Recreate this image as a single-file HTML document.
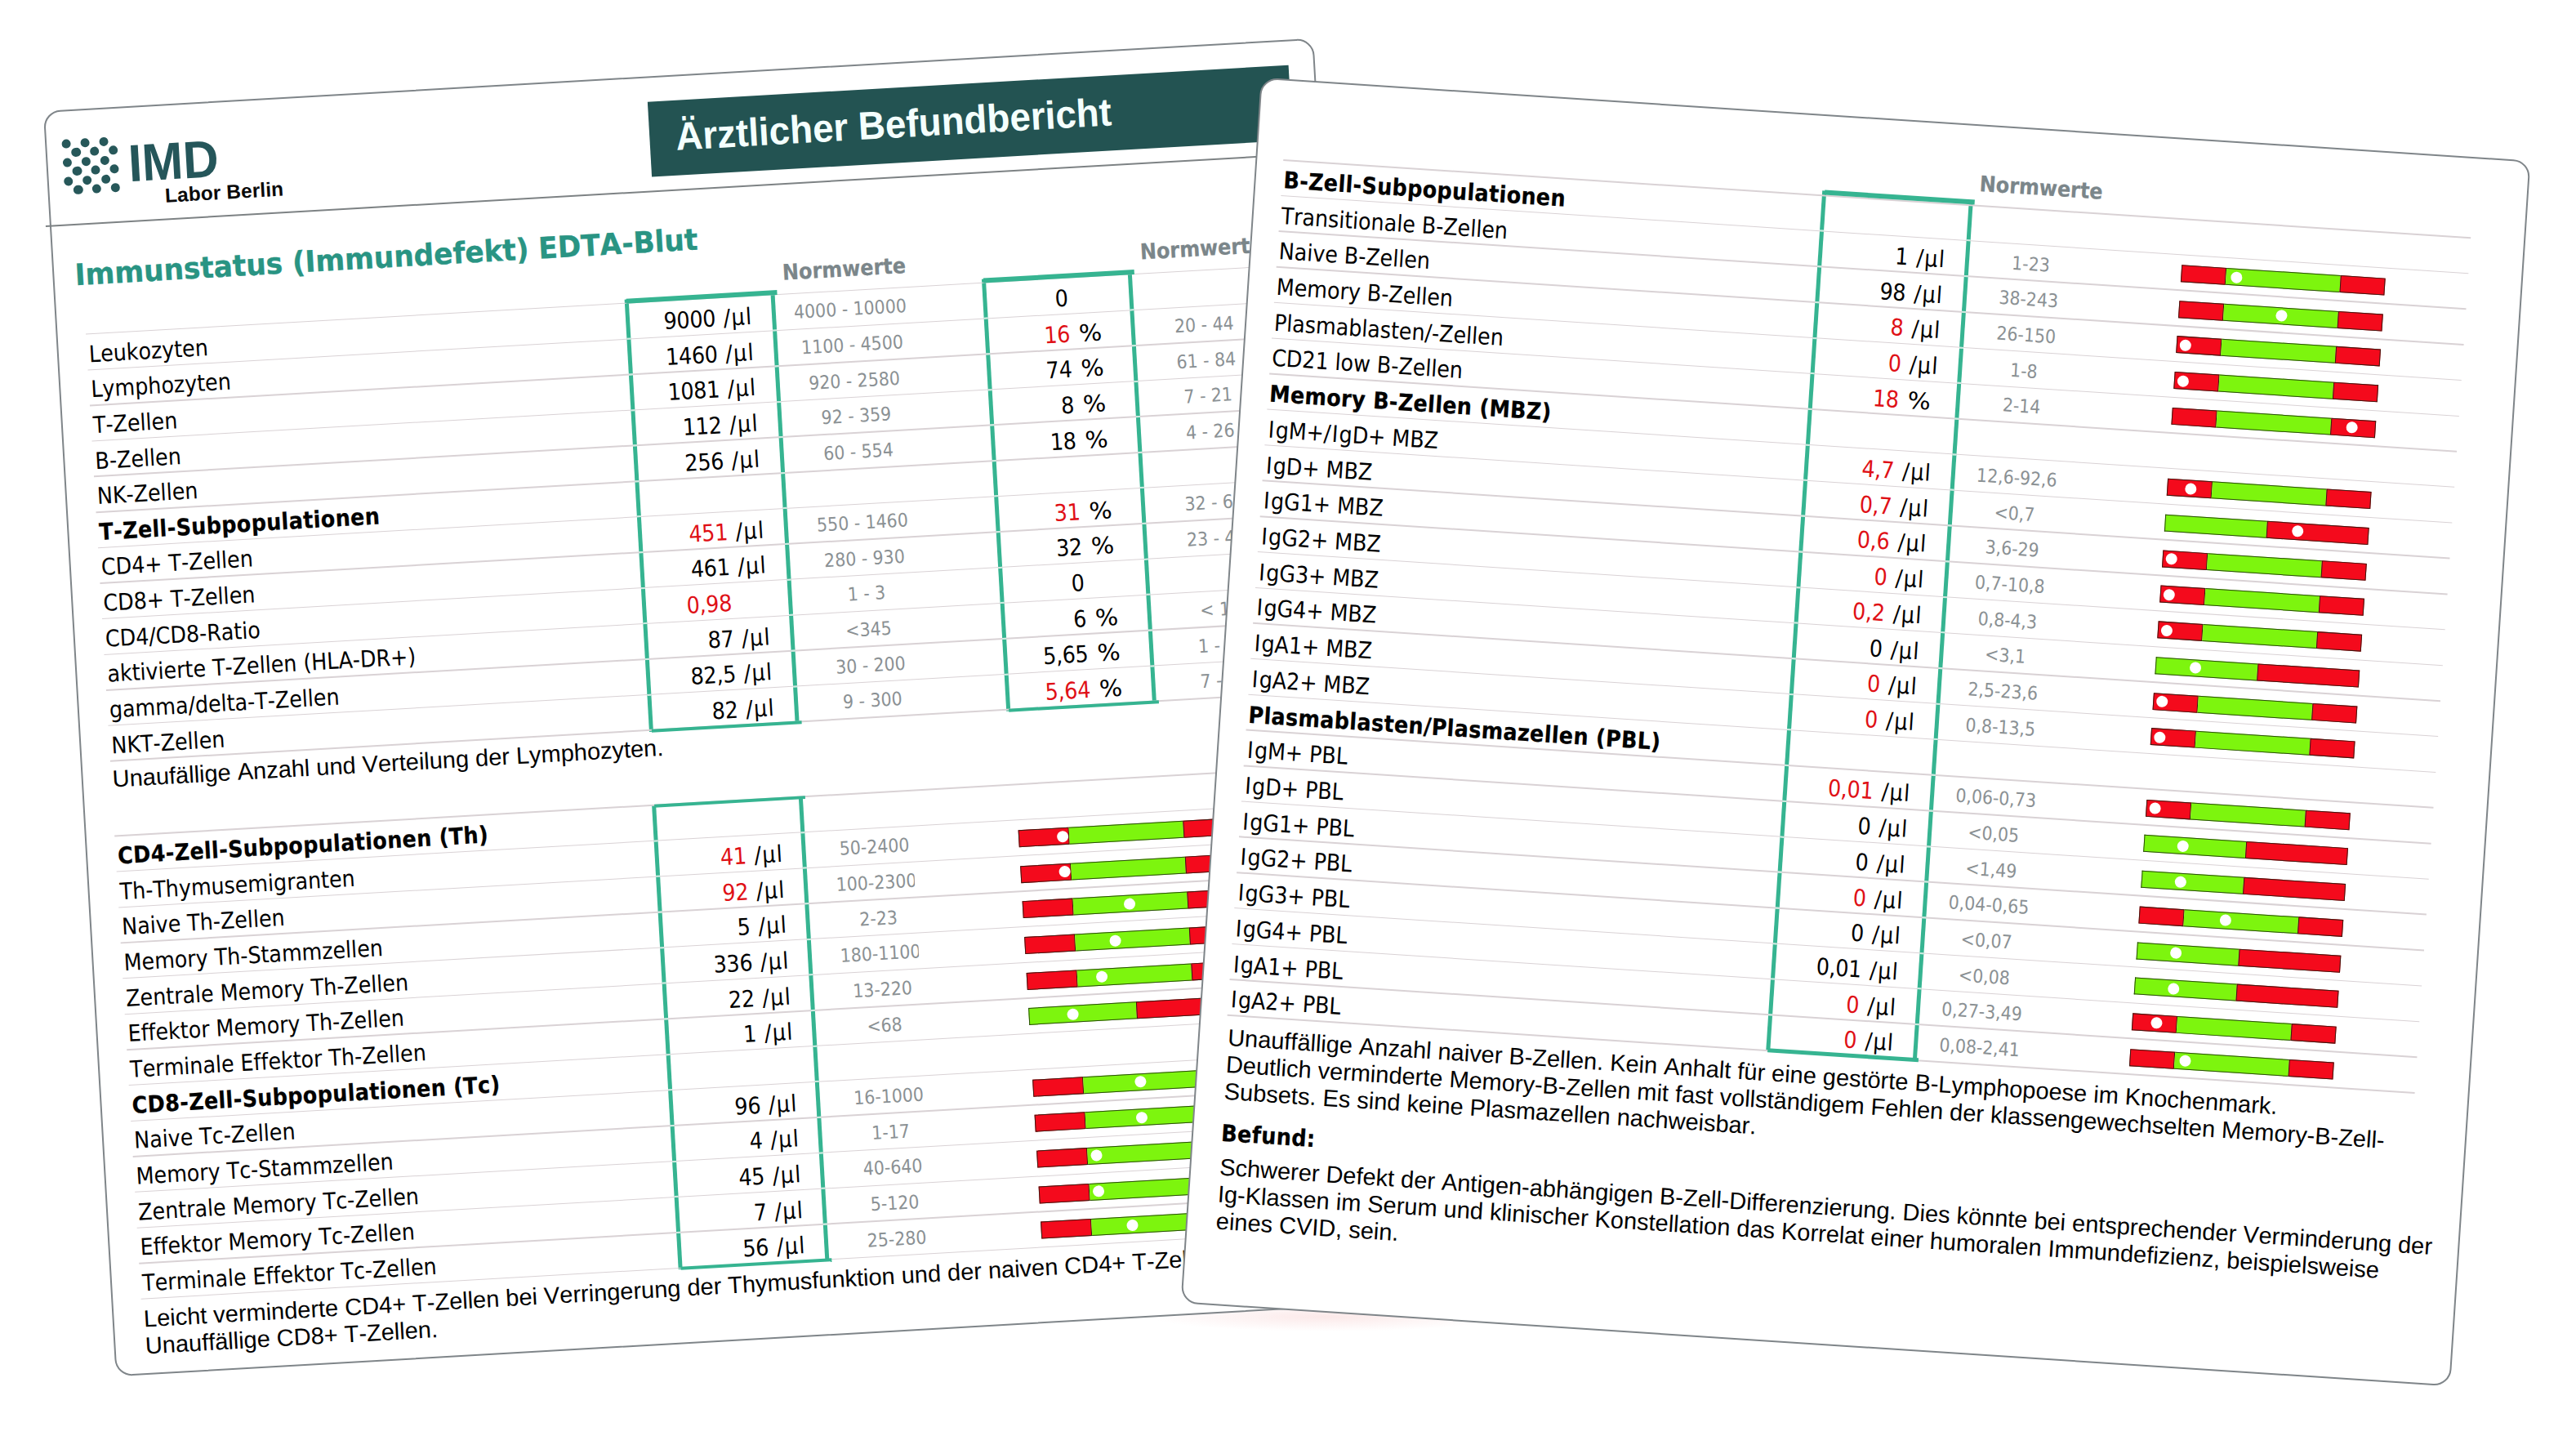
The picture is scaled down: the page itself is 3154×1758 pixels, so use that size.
<!DOCTYPE html>
<html lang="de"><head><meta charset="utf-8"><title>Ärztlicher Befundbericht</title>
<style>
*{box-sizing:border-box;margin:0;padding:0}
html,body{width:3154px;height:1758px;background:#fff;overflow:hidden}
body{position:relative;font-family:"DejaVu Sans Condensed","DejaVu Sans",sans-serif;color:#000;font-kerning:none;font-variant-ligatures:none}
.card{position:absolute;background:#fff;border:2.3px solid #7f8589;border-radius:21px;transform-origin:50% 50%}
.clip{position:absolute;left:0;top:0;right:0;bottom:0;border-radius:19px;overflow:hidden}
.off{position:absolute;left:0;top:0;width:100%;height:100%}
.t{position:absolute;white-space:nowrap;line-height:1}
.lb{font-size:28.2px}
.bd{font-size:28.2px;font-weight:700;letter-spacing:.42px;-webkit-text-stroke:.25px #000}
.nm{font-size:28.2px;letter-spacing:-.3px}
.un{font-size:28.2px;letter-spacing:1.3px}
.r{color:#df1016}
.sI{padding:0 1.4px}
.nv{font-size:22.8px;color:#8b9194;transform:translateX(-50%)}
.nh{font-size:26.6px;font-weight:700;color:#7b868a;-webkit-text-stroke:.2px #7b868a}
.ar{font-family:"Liberation Sans",sans-serif;font-size:29px;line-height:33px}
.ln{position:absolute;height:1.5px;background:#d9d2d5}
.tq{position:absolute;background:#36b491}
.gap{position:absolute;background:#c9ece0;height:2px}
.bar{position:absolute;height:21px}
.bar i{position:absolute;top:0;bottom:0;display:block;border:1px solid #3a1a10}
.rd{background:#f40a1c}
.gn{background:#7df50e;border-left:0!important;border-right:0!important;border-color:#2c4a10!important}
.dot{position:absolute;width:14px;height:14px;border-radius:50%;background:#fff;top:3.5px}
</style></head>
<body>
<div style="position:absolute;left:1410px;top:1594px;width:430px;height:36px;background:radial-gradient(ellipse closest-side at 50% 50%,rgba(244,190,190,.34),rgba(244,190,190,0) 100%)"></div>
<div class="card" id="cardL" style="left:95.65px;top:90.20px;width:1557.6px;height:1552.4px;transform:rotate(-3.28deg)">
<div class="clip"><div class="off" style="transform:translate(-2.6px,-1.7px)">
<div style="position:absolute;left:739.6px;top:31.4px;width:786.9px;height:92px;background:#235352"></div>
<div class="t" style="left:772.4px;top:52.3px;font-family:'Liberation Sans',sans-serif;font-weight:700;font-size:48px;color:#f4fffd;transform-origin:0 50%;transform:scaleX(.954)">Ärztlicher Befundbericht</div>
<div style="position:absolute;left:20.9px;top:35.7px;width:11.2px;height:11.2px;border-radius:50%;background:#27585a"></div>
<div style="position:absolute;left:43.8px;top:35.7px;width:11.2px;height:11.2px;border-radius:50%;background:#27585a"></div>
<div style="position:absolute;left:66.6px;top:35.7px;width:11.2px;height:11.2px;border-radius:50%;background:#27585a"></div>
<div style="position:absolute;left:32.4px;top:47.1px;width:11.2px;height:11.2px;border-radius:50%;background:#27585a"></div>
<div style="position:absolute;left:55.2px;top:47.1px;width:11.2px;height:11.2px;border-radius:50%;background:#27585a"></div>
<div style="position:absolute;left:78.1px;top:47.1px;width:11.2px;height:11.2px;border-radius:50%;background:#27585a"></div>
<div style="position:absolute;left:20.9px;top:58.6px;width:11.2px;height:11.2px;border-radius:50%;background:#27585a"></div>
<div style="position:absolute;left:43.8px;top:58.6px;width:11.2px;height:11.2px;border-radius:50%;background:#27585a"></div>
<div style="position:absolute;left:66.6px;top:58.6px;width:11.2px;height:11.2px;border-radius:50%;background:#27585a"></div>
<div style="position:absolute;left:32.4px;top:70.0px;width:11.2px;height:11.2px;border-radius:50%;background:#27585a"></div>
<div style="position:absolute;left:55.2px;top:70.0px;width:11.2px;height:11.2px;border-radius:50%;background:#27585a"></div>
<div style="position:absolute;left:78.1px;top:70.0px;width:11.2px;height:11.2px;border-radius:50%;background:#27585a"></div>
<div style="position:absolute;left:20.9px;top:81.5px;width:11.2px;height:11.2px;border-radius:50%;background:#27585a"></div>
<div style="position:absolute;left:43.8px;top:81.5px;width:11.2px;height:11.2px;border-radius:50%;background:#27585a"></div>
<div style="position:absolute;left:66.6px;top:81.5px;width:11.2px;height:11.2px;border-radius:50%;background:#27585a"></div>
<div style="position:absolute;left:32.4px;top:93.0px;width:11.2px;height:11.2px;border-radius:50%;background:#27585a"></div>
<div style="position:absolute;left:55.2px;top:93.0px;width:11.2px;height:11.2px;border-radius:50%;background:#27585a"></div>
<div style="position:absolute;left:78.1px;top:93.0px;width:11.2px;height:11.2px;border-radius:50%;background:#27585a"></div>
<div class="t" style="left:100.6px;top:38.4px;font-family:'Liberation Sans',sans-serif;font-weight:700;font-size:64.2px;color:#25565a;transform-origin:0 50%;transform:scaleX(.94)">IMD</div>
<div class="t " style="left:143.5px;top:100.4px;font-family:'Liberation Sans',sans-serif;font-weight:700;font-size:24.4px;color:#0a0a0a;letter-spacing:.15px">Labor Berlin</div>
<div class="t " style="left:28.0px;top:185.0px;font-family:'DejaVu Sans',sans-serif;font-weight:700;font-size:36.2px;color:#299483;transform-origin:0 50%;transform:scaleX(.949);-webkit-text-stroke:.35px #299483">Immunstatus (Immundefekt) EDTA-Blut</div>
<div class="t nh" style="left:893.0px;top:235.5px;">Normwerte</div>
<div class="t nh" style="left:1331.6px;top:235.7px;">Normwerte</div>
<div class="tq" style="left:697.7px;top:271.0px;width:5.0px;height:530.3px"></div>
<div class="tq" style="left:877.1px;top:271.0px;width:5.0px;height:530.3px"></div>
<div class="tq" style="left:1135.7px;top:271.0px;width:5.0px;height:530.2px"></div>
<div class="tq" style="left:1315.3px;top:271.0px;width:5.0px;height:530.2px"></div>
<div class="ln" style="left:36.6px;width:1493.4px;top:274.9px"></div>
<div class="ln" style="left:36.6px;width:1493.4px;top:318.5px"></div>
<div class="ln" style="left:36.6px;width:1493.4px;top:362.1px"></div>
<div class="ln" style="left:36.6px;width:1493.4px;top:405.7px"></div>
<div class="ln" style="left:36.6px;width:1493.4px;top:449.4px"></div>
<div class="ln" style="left:36.6px;width:1493.4px;top:493.0px"></div>
<div class="ln" style="left:36.6px;width:1493.4px;top:536.6px"></div>
<div class="ln" style="left:36.6px;width:1493.4px;top:580.3px"></div>
<div class="ln" style="left:36.6px;width:1493.4px;top:623.9px"></div>
<div class="ln" style="left:36.6px;width:1493.4px;top:667.5px"></div>
<div class="ln" style="left:36.6px;width:1493.4px;top:711.2px"></div>
<div class="ln" style="left:36.6px;width:1493.4px;top:754.8px"></div>
<div class="ln" style="left:36.6px;width:1493.4px;top:798.4px"></div>
<div class="tq" style="left:700.3px;top:270.0px;width:184.4px;height:5.9px"></div>
<div class="tq" style="left:700.5px;top:798.4px;width:184.4px;height:3.9px"></div>
<div class="gap" style="left:697.7px;width:5.0px;top:318.2px"></div>
<div class="gap" style="left:877.1px;width:5.0px;top:318.2px"></div>
<div class="gap" style="left:697.7px;width:5.0px;top:361.9px"></div>
<div class="gap" style="left:877.1px;width:5.0px;top:361.9px"></div>
<div class="gap" style="left:697.7px;width:5.0px;top:405.5px"></div>
<div class="gap" style="left:877.1px;width:5.0px;top:405.5px"></div>
<div class="gap" style="left:697.7px;width:5.0px;top:449.1px"></div>
<div class="gap" style="left:877.1px;width:5.0px;top:449.1px"></div>
<div class="gap" style="left:697.7px;width:5.0px;top:492.8px"></div>
<div class="gap" style="left:877.1px;width:5.0px;top:492.8px"></div>
<div class="gap" style="left:697.7px;width:5.0px;top:536.4px"></div>
<div class="gap" style="left:877.1px;width:5.0px;top:536.4px"></div>
<div class="gap" style="left:697.7px;width:5.0px;top:580.0px"></div>
<div class="gap" style="left:877.1px;width:5.0px;top:580.0px"></div>
<div class="gap" style="left:697.7px;width:5.0px;top:623.6px"></div>
<div class="gap" style="left:877.1px;width:5.0px;top:623.6px"></div>
<div class="gap" style="left:697.7px;width:5.0px;top:667.3px"></div>
<div class="gap" style="left:877.1px;width:5.0px;top:667.3px"></div>
<div class="gap" style="left:697.7px;width:5.0px;top:710.9px"></div>
<div class="gap" style="left:877.1px;width:5.0px;top:710.9px"></div>
<div class="gap" style="left:697.7px;width:5.0px;top:754.5px"></div>
<div class="gap" style="left:877.1px;width:5.0px;top:754.5px"></div>
<div class="tq" style="left:1138.3px;top:270.0px;width:184.6px;height:5.9px"></div>
<div class="tq" style="left:1138.5px;top:798.3px;width:184.6px;height:3.9px"></div>
<div class="gap" style="left:1135.7px;width:5.0px;top:318.2px"></div>
<div class="gap" style="left:1315.3px;width:5.0px;top:318.2px"></div>
<div class="gap" style="left:1135.7px;width:5.0px;top:361.9px"></div>
<div class="gap" style="left:1315.3px;width:5.0px;top:361.9px"></div>
<div class="gap" style="left:1135.7px;width:5.0px;top:405.5px"></div>
<div class="gap" style="left:1315.3px;width:5.0px;top:405.5px"></div>
<div class="gap" style="left:1135.7px;width:5.0px;top:449.1px"></div>
<div class="gap" style="left:1315.3px;width:5.0px;top:449.1px"></div>
<div class="gap" style="left:1135.7px;width:5.0px;top:492.8px"></div>
<div class="gap" style="left:1315.3px;width:5.0px;top:492.8px"></div>
<div class="gap" style="left:1135.7px;width:5.0px;top:536.4px"></div>
<div class="gap" style="left:1315.3px;width:5.0px;top:536.4px"></div>
<div class="gap" style="left:1135.7px;width:5.0px;top:580.0px"></div>
<div class="gap" style="left:1315.3px;width:5.0px;top:580.0px"></div>
<div class="gap" style="left:1135.7px;width:5.0px;top:623.6px"></div>
<div class="gap" style="left:1315.3px;width:5.0px;top:623.6px"></div>
<div class="gap" style="left:1135.7px;width:5.0px;top:667.3px"></div>
<div class="gap" style="left:1315.3px;width:5.0px;top:667.3px"></div>
<div class="gap" style="left:1135.7px;width:5.0px;top:710.9px"></div>
<div class="gap" style="left:1315.3px;width:5.0px;top:710.9px"></div>
<div class="gap" style="left:1135.7px;width:5.0px;top:754.5px"></div>
<div class="gap" style="left:1315.3px;width:5.0px;top:754.5px"></div>
<div class="t lb" style="left:39.6px;top:286.6px;">Leukozyten</div>
<div class="t nm" style="right:745.8px;top:286.9px">9000</div>
<div class="t un" style="left:817.6px;top:286.9px">/µl</div>
<div class="t nv" style="left:973.2px;top:287.3px;">4000 - 10000</div>
<div class="t nm" style="right:313.6px;top:286.9px">0</div>
<div class="t lb" style="left:39.6px;top:330.3px;">Lymphozyten</div>
<div class="t nm" style="right:745.8px;top:330.6px">1460</div>
<div class="t un" style="left:817.6px;top:330.6px">/µl</div>
<div class="t nv" style="left:973.2px;top:330.9px;">1100 - 4500</div>
<div class="t nm r" style="right:313.6px;top:330.6px">16</div>
<div class="t un" style="left:1250.6px;top:330.6px;letter-spacing:0;transform-origin:0 50%;transform:scaleX(1.17)">%</div>
<div class="t nv" style="left:1404.7px;top:330.9px;">20 - 44</div>
<div class="t lb" style="left:39.6px;top:373.9px;">T-Zellen</div>
<div class="t nm" style="right:745.8px;top:374.2px">1081</div>
<div class="t un" style="left:817.6px;top:374.2px">/µl</div>
<div class="t nv" style="left:973.2px;top:374.6px;">920 - 2580</div>
<div class="t nm" style="right:313.6px;top:374.2px">74</div>
<div class="t un" style="left:1250.6px;top:374.2px;letter-spacing:0;transform-origin:0 50%;transform:scaleX(1.17)">%</div>
<div class="t nv" style="left:1404.7px;top:374.6px;">61 - 84</div>
<div class="t lb" style="left:39.6px;top:417.5px;">B-Zellen</div>
<div class="t nm" style="right:745.8px;top:417.8px">112</div>
<div class="t un" style="left:817.6px;top:417.8px">/µl</div>
<div class="t nv" style="left:973.2px;top:418.2px;">92 - 359</div>
<div class="t nm" style="right:313.6px;top:417.8px">8</div>
<div class="t un" style="left:1250.6px;top:417.8px;letter-spacing:0;transform-origin:0 50%;transform:scaleX(1.17)">%</div>
<div class="t nv" style="left:1404.7px;top:418.2px;">7 - 21</div>
<div class="t lb" style="left:39.6px;top:461.2px;">NK-Zellen</div>
<div class="t nm" style="right:745.8px;top:461.5px">256</div>
<div class="t un" style="left:817.6px;top:461.5px">/µl</div>
<div class="t nv" style="left:973.2px;top:461.8px;">60 - 554</div>
<div class="t nm" style="right:313.6px;top:461.5px">18</div>
<div class="t un" style="left:1250.6px;top:461.5px;letter-spacing:0;transform-origin:0 50%;transform:scaleX(1.17)">%</div>
<div class="t nv" style="left:1404.7px;top:461.8px;">4 - 26</div>
<div class="t bd" style="left:39.6px;top:504.8px;">T-Zell-Subpopulationen</div>
<div class="t lb" style="left:39.6px;top:548.4px;">CD4+ T-Zellen</div>
<div class="t nm r" style="right:745.8px;top:548.7px">451</div>
<div class="t un" style="left:817.6px;top:548.7px">/µl</div>
<div class="t nv" style="left:973.2px;top:549.1px;">550 - 1460</div>
<div class="t nm r" style="right:313.6px;top:548.7px">31</div>
<div class="t un" style="left:1250.6px;top:548.7px;letter-spacing:0;transform-origin:0 50%;transform:scaleX(1.17)">%</div>
<div class="t nv" style="left:1404.7px;top:549.1px;">32 - 60</div>
<div class="t lb" style="left:39.6px;top:592.1px;">CD8+ T-Zellen</div>
<div class="t nm" style="right:745.8px;top:592.4px">461</div>
<div class="t un" style="left:817.6px;top:592.4px">/µl</div>
<div class="t nv" style="left:973.2px;top:592.7px;">280 - 930</div>
<div class="t nm" style="right:313.6px;top:592.4px">32</div>
<div class="t un" style="left:1250.6px;top:592.4px;letter-spacing:0;transform-origin:0 50%;transform:scaleX(1.17)">%</div>
<div class="t nv" style="left:1404.7px;top:592.7px;">23 - 40</div>
<div class="t lb" style="left:39.6px;top:635.7px;">CD4/CD8-Ratio</div>
<div class="t nm r" style="right:745.8px;top:636.0px">0,98</div>
<div class="t nv" style="left:973.2px;top:636.4px;">1 - 3</div>
<div class="t nm" style="right:313.6px;top:636.0px">0</div>
<div class="t lb" style="left:39.6px;top:679.3px;">aktivierte T-Zellen (HLA-DR+)</div>
<div class="t nm" style="right:745.8px;top:679.6px">87</div>
<div class="t un" style="left:817.6px;top:679.6px">/µl</div>
<div class="t nv" style="left:973.2px;top:680.0px;">&lt;345</div>
<div class="t nm" style="right:313.6px;top:679.6px">6</div>
<div class="t un" style="left:1250.6px;top:679.6px;letter-spacing:0;transform-origin:0 50%;transform:scaleX(1.17)">%</div>
<div class="t nv" style="left:1404.7px;top:680.0px;">&lt; 15</div>
<div class="t lb" style="left:39.6px;top:722.9px;">gamma/delta-T-Zellen</div>
<div class="t nm" style="right:745.8px;top:723.2px">82,5</div>
<div class="t un" style="left:817.6px;top:723.2px">/µl</div>
<div class="t nv" style="left:973.2px;top:723.6px;">30 - 200</div>
<div class="t nm" style="right:313.6px;top:723.2px">5,65</div>
<div class="t un" style="left:1250.6px;top:723.2px;letter-spacing:0;transform-origin:0 50%;transform:scaleX(1.17)">%</div>
<div class="t nv" style="left:1404.7px;top:723.6px;">1 - 10</div>
<div class="t lb" style="left:39.6px;top:766.6px;">NKT-Zellen</div>
<div class="t nm" style="right:745.8px;top:766.9px">82</div>
<div class="t un" style="left:817.6px;top:766.9px">/µl</div>
<div class="t nv" style="left:973.2px;top:767.2px;">9 - 300</div>
<div class="t nm r" style="right:313.6px;top:766.9px">5,64</div>
<div class="t un" style="left:1250.6px;top:766.9px;letter-spacing:0;transform-origin:0 50%;transform:scaleX(1.17)">%</div>
<div class="t nv" style="left:1404.7px;top:767.2px;">7 - 31</div>
<div class="t ar" style="left:38.6px;top:804.7px;">Unaufällige Anzahl und Verteilung der Lymphozyten.</div>
<div class="tq" style="left:696.4px;top:891.2px;width:5.0px;height:568.4px"></div>
<div class="tq" style="left:876.0px;top:891.2px;width:5.0px;height:568.4px"></div>
<div class="ln" style="left:36.6px;width:1493.4px;top:890.2px"></div>
<div class="ln" style="left:36.6px;width:1493.4px;top:933.9px"></div>
<div class="ln" style="left:36.6px;width:1493.4px;top:977.6px"></div>
<div class="ln" style="left:36.6px;width:1493.4px;top:1021.2px"></div>
<div class="ln" style="left:36.6px;width:1493.4px;top:1064.9px"></div>
<div class="ln" style="left:36.6px;width:1493.4px;top:1108.5px"></div>
<div class="ln" style="left:36.6px;width:1493.4px;top:1152.2px"></div>
<div class="ln" style="left:36.6px;width:1493.4px;top:1195.9px"></div>
<div class="ln" style="left:36.6px;width:1493.4px;top:1239.5px"></div>
<div class="ln" style="left:36.6px;width:1493.4px;top:1283.2px"></div>
<div class="ln" style="left:36.6px;width:1493.4px;top:1326.8px"></div>
<div class="ln" style="left:36.6px;width:1493.4px;top:1370.5px"></div>
<div class="ln" style="left:36.6px;width:1493.4px;top:1414.2px"></div>
<div class="ln" style="left:36.6px;width:1493.4px;top:1457.8px"></div>
<div class="tq" style="left:699.0px;top:890.2px;width:184.6px;height:3.8px"></div>
<div class="tq" style="left:699.2px;top:1456.7px;width:184.6px;height:3.9px"></div>
<div class="gap" style="left:696.4px;width:5.0px;top:933.7px"></div>
<div class="gap" style="left:876.0px;width:5.0px;top:933.7px"></div>
<div class="gap" style="left:696.4px;width:5.0px;top:977.3px"></div>
<div class="gap" style="left:876.0px;width:5.0px;top:977.3px"></div>
<div class="gap" style="left:696.4px;width:5.0px;top:1021.0px"></div>
<div class="gap" style="left:876.0px;width:5.0px;top:1021.0px"></div>
<div class="gap" style="left:696.4px;width:5.0px;top:1064.6px"></div>
<div class="gap" style="left:876.0px;width:5.0px;top:1064.6px"></div>
<div class="gap" style="left:696.4px;width:5.0px;top:1108.3px"></div>
<div class="gap" style="left:876.0px;width:5.0px;top:1108.3px"></div>
<div class="gap" style="left:696.4px;width:5.0px;top:1152.0px"></div>
<div class="gap" style="left:876.0px;width:5.0px;top:1152.0px"></div>
<div class="gap" style="left:696.4px;width:5.0px;top:1195.6px"></div>
<div class="gap" style="left:876.0px;width:5.0px;top:1195.6px"></div>
<div class="gap" style="left:696.4px;width:5.0px;top:1239.3px"></div>
<div class="gap" style="left:876.0px;width:5.0px;top:1239.3px"></div>
<div class="gap" style="left:696.4px;width:5.0px;top:1282.9px"></div>
<div class="gap" style="left:876.0px;width:5.0px;top:1282.9px"></div>
<div class="gap" style="left:696.4px;width:5.0px;top:1326.6px"></div>
<div class="gap" style="left:876.0px;width:5.0px;top:1326.6px"></div>
<div class="gap" style="left:696.4px;width:5.0px;top:1370.3px"></div>
<div class="gap" style="left:876.0px;width:5.0px;top:1370.3px"></div>
<div class="gap" style="left:696.4px;width:5.0px;top:1413.9px"></div>
<div class="gap" style="left:876.0px;width:5.0px;top:1413.9px"></div>
<div class="t bd" style="left:39.6px;top:902.0px;">CD4-Zell-Subpopulationen (Th)</div>
<div class="t lb" style="left:39.6px;top:945.7px;">Th-Thymusemigranten</div>
<div class="t nm r" style="right:745.8px;top:946.0px">41</div>
<div class="t un" style="left:817.6px;top:946.0px">/µl</div>
<div class="t nv" style="left:965.1px;top:946.4px;">50-2400</div>
<div class="bar" style="left:1141.6px;top:947.0px;width:265.0px"><i class="rd" style="left:0.0px;width:62.3px"></i><i class="gn" style="left:62.3px;width:140.4px"></i><i class="rd" style="left:202.7px;width:62.3px"></i><b class="dot" style="left:47.7px"></b></div>
<div class="t lb" style="left:39.6px;top:989.4px;">Naive Th-Zellen</div>
<div class="t nm r" style="right:745.8px;top:989.7px">92</div>
<div class="t un" style="left:817.6px;top:989.7px">/µl</div>
<div style="position:absolute;left:910px;top:978.3px;width:101.7px;height:42px;overflow:hidden"><div class="t nv" style="left:55.1px;top:11.7px">100-2300</div></div>
<div class="bar" style="left:1141.6px;top:990.6px;width:265.0px"><i class="rd" style="left:0.0px;width:62.3px"></i><i class="gn" style="left:62.3px;width:140.4px"></i><i class="rd" style="left:202.7px;width:62.3px"></i><b class="dot" style="left:47.1px"></b></div>
<div class="t lb" style="left:39.6px;top:1033.0px;">Memory Th-Stammzellen</div>
<div class="t nm" style="right:745.8px;top:1033.3px">5</div>
<div class="t un" style="left:817.6px;top:1033.3px">/µl</div>
<div class="t nv" style="left:965.1px;top:1033.7px;">2-23</div>
<div class="bar" style="left:1141.6px;top:1034.3px;width:265.0px"><i class="rd" style="left:0.0px;width:62.3px"></i><i class="gn" style="left:62.3px;width:140.4px"></i><i class="rd" style="left:202.7px;width:62.3px"></i><b class="dot" style="left:124.2px"></b></div>
<div class="t lb" style="left:39.6px;top:1076.7px;">Zentrale Memory Th-Zellen</div>
<div class="t nm" style="right:745.8px;top:1077.0px">336</div>
<div class="t un" style="left:817.6px;top:1077.0px">/µl</div>
<div style="position:absolute;left:910px;top:1065.6px;width:101.7px;height:42px;overflow:hidden"><div class="t nv" style="left:55.1px;top:11.7px">180-1100</div></div>
<div class="bar" style="left:1141.6px;top:1078.0px;width:265.0px"><i class="rd" style="left:0.0px;width:62.3px"></i><i class="gn" style="left:62.3px;width:140.4px"></i><i class="rd" style="left:202.7px;width:62.3px"></i><b class="dot" style="left:104.8px"></b></div>
<div class="t lb" style="left:39.6px;top:1120.3px;">Effektor Memory Th-Zellen</div>
<div class="t nm" style="right:745.8px;top:1120.6px">22</div>
<div class="t un" style="left:817.6px;top:1120.6px">/µl</div>
<div class="t nv" style="left:965.1px;top:1121.0px;">13-220</div>
<div class="bar" style="left:1141.6px;top:1121.6px;width:265.0px"><i class="rd" style="left:0.0px;width:62.3px"></i><i class="gn" style="left:62.3px;width:140.4px"></i><i class="rd" style="left:202.7px;width:62.3px"></i><b class="dot" style="left:85.8px"></b></div>
<div class="t lb" style="left:39.6px;top:1164.0px;">Terminale Effektor Th-Zellen</div>
<div class="t nm" style="right:745.8px;top:1164.3px">1</div>
<div class="t un" style="left:817.6px;top:1164.3px">/µl</div>
<div class="t nv" style="left:965.1px;top:1164.7px;">&lt;68</div>
<div class="bar" style="left:1141.6px;top:1165.3px;width:265.0px"><i class="gn" style="left:0.0px;width:132.0px;border-left:1px solid #2c4a10!important"></i><i class="rd" style="left:132.0px;width:133.0px"></i><b class="dot" style="left:47.3px"></b></div>
<div class="t bd" style="left:39.6px;top:1207.7px;">CD8-Zell-Subpopulationen (Tc)</div>
<div class="t lb" style="left:39.6px;top:1251.3px;">Naive Tc-Zellen</div>
<div class="t nm" style="right:745.8px;top:1251.6px">96</div>
<div class="t un" style="left:817.6px;top:1251.6px">/µl</div>
<div class="t nv" style="left:965.1px;top:1252.0px;">16-1000</div>
<div class="bar" style="left:1141.6px;top:1252.6px;width:265.0px"><i class="rd" style="left:0.0px;width:62.3px"></i><i class="gn" style="left:62.3px;width:140.4px"></i><i class="rd" style="left:202.7px;width:62.3px"></i><b class="dot" style="left:125.0px"></b></div>
<div class="t lb" style="left:39.6px;top:1295.0px;">Memory Tc-Stammzellen</div>
<div class="t nm" style="right:745.8px;top:1295.3px">4</div>
<div class="t un" style="left:817.6px;top:1295.3px">/µl</div>
<div class="t nv" style="left:965.1px;top:1295.7px;">1-17</div>
<div class="bar" style="left:1141.6px;top:1296.3px;width:265.0px"><i class="rd" style="left:0.0px;width:62.3px"></i><i class="gn" style="left:62.3px;width:140.4px"></i><i class="rd" style="left:202.7px;width:62.3px"></i><b class="dot" style="left:124.6px"></b></div>
<div class="t lb" style="left:39.6px;top:1338.6px;">Zentrale Memory Tc-Zellen</div>
<div class="t nm" style="right:745.8px;top:1338.9px">45</div>
<div class="t un" style="left:817.6px;top:1338.9px">/µl</div>
<div class="t nv" style="left:965.1px;top:1339.3px;">40-640</div>
<div class="bar" style="left:1141.6px;top:1339.9px;width:265.0px"><i class="rd" style="left:0.0px;width:62.3px"></i><i class="gn" style="left:62.3px;width:140.4px"></i><i class="rd" style="left:202.7px;width:62.3px"></i><b class="dot" style="left:66.4px"></b></div>
<div class="t lb" style="left:39.6px;top:1382.3px;">Effektor Memory Tc-Zellen</div>
<div class="t nm" style="right:745.8px;top:1382.6px">7</div>
<div class="t un" style="left:817.6px;top:1382.6px">/µl</div>
<div class="t nv" style="left:965.1px;top:1383.0px;">5-120</div>
<div class="bar" style="left:1141.6px;top:1383.6px;width:265.0px"><i class="rd" style="left:0.0px;width:62.3px"></i><i class="gn" style="left:62.3px;width:140.4px"></i><i class="rd" style="left:202.7px;width:62.3px"></i><b class="dot" style="left:66.4px"></b></div>
<div class="t lb" style="left:39.6px;top:1426.0px;">Terminale Effektor Tc-Zellen</div>
<div class="t nm" style="right:745.8px;top:1426.3px">56</div>
<div class="t un" style="left:817.6px;top:1426.3px">/µl</div>
<div class="t nv" style="left:965.1px;top:1426.6px;">25-280</div>
<div class="bar" style="left:1141.6px;top:1427.2px;width:265.0px"><i class="rd" style="left:0.0px;width:62.3px"></i><i class="gn" style="left:62.3px;width:140.4px"></i><i class="rd" style="left:202.7px;width:62.3px"></i><b class="dot" style="left:105.0px"></b></div>
<div class="t ar" style="left:38.9px;top:1466.9px">Leicht verminderte CD4+ T-Zellen bei Verringerung der Thymusfunktion und der naiven CD4+ T-Zellen.<br>Unauffällige CD8+ T-Zellen.</div>
</div></div>
<div style="position:absolute;left:-6.6px;top:137.9px;width:1572px;height:2px;background:#7d8284"></div>
</div>
<div class="card" id="cardR" style="left:1492.50px;top:144.40px;width:1558.0px;height:1504.0px;transform:rotate(3.75deg)">
<div class="clip"><div class="off" style="transform:translate(-2.0px,-2.6px)">
<div class="t nh" style="left:886.7px;top:60.4px;">Normwerte</div>
<div class="tq" style="left:695.4px;top:93.6px;width:5.0px;height:1056.8px"></div>
<div class="tq" style="left:874.6px;top:93.6px;width:5.0px;height:1056.8px"></div>
<div class="ln" style="left:33.8px;width:1457.2px;top:99.0px"></div>
<div class="ln" style="left:33.8px;width:1457.2px;top:142.7px"></div>
<div class="ln" style="left:33.8px;width:1457.2px;top:186.4px"></div>
<div class="ln" style="left:33.8px;width:1457.2px;top:230.1px"></div>
<div class="ln" style="left:33.8px;width:1457.2px;top:273.8px"></div>
<div class="ln" style="left:33.8px;width:1457.2px;top:317.5px"></div>
<div class="ln" style="left:33.8px;width:1457.2px;top:361.2px"></div>
<div class="ln" style="left:33.8px;width:1457.2px;top:404.9px"></div>
<div class="ln" style="left:33.8px;width:1457.2px;top:448.6px"></div>
<div class="ln" style="left:33.8px;width:1457.2px;top:492.3px"></div>
<div class="ln" style="left:33.8px;width:1457.2px;top:536.1px"></div>
<div class="ln" style="left:33.8px;width:1457.2px;top:579.8px"></div>
<div class="ln" style="left:33.8px;width:1457.2px;top:623.5px"></div>
<div class="ln" style="left:33.8px;width:1457.2px;top:667.2px"></div>
<div class="ln" style="left:33.8px;width:1457.2px;top:710.9px"></div>
<div class="ln" style="left:33.8px;width:1457.2px;top:754.6px"></div>
<div class="ln" style="left:33.8px;width:1457.2px;top:798.3px"></div>
<div class="ln" style="left:33.8px;width:1457.2px;top:842.0px"></div>
<div class="ln" style="left:33.8px;width:1457.2px;top:885.7px"></div>
<div class="ln" style="left:33.8px;width:1457.2px;top:929.4px"></div>
<div class="ln" style="left:33.8px;width:1457.2px;top:973.2px"></div>
<div class="ln" style="left:33.8px;width:1457.2px;top:1016.9px"></div>
<div class="ln" style="left:33.8px;width:1457.2px;top:1060.6px"></div>
<div class="ln" style="left:33.8px;width:1457.2px;top:1104.3px"></div>
<div class="ln" style="left:33.8px;width:1457.2px;top:1148.0px"></div>
<div class="tq" style="left:698.0px;top:92.6px;width:184.2px;height:6.2px"></div>
<div class="tq" style="left:697.4px;top:1146.2px;width:184.2px;height:5.2px"></div>
<div class="gap" style="left:695.4px;width:5.0px;top:142.4px"></div>
<div class="gap" style="left:874.6px;width:5.0px;top:142.4px"></div>
<div class="gap" style="left:695.4px;width:5.0px;top:186.1px"></div>
<div class="gap" style="left:874.6px;width:5.0px;top:186.1px"></div>
<div class="gap" style="left:695.4px;width:5.0px;top:229.8px"></div>
<div class="gap" style="left:874.6px;width:5.0px;top:229.8px"></div>
<div class="gap" style="left:695.4px;width:5.0px;top:273.5px"></div>
<div class="gap" style="left:874.6px;width:5.0px;top:273.5px"></div>
<div class="gap" style="left:695.4px;width:5.0px;top:317.2px"></div>
<div class="gap" style="left:874.6px;width:5.0px;top:317.2px"></div>
<div class="gap" style="left:695.4px;width:5.0px;top:361.0px"></div>
<div class="gap" style="left:874.6px;width:5.0px;top:361.0px"></div>
<div class="gap" style="left:695.4px;width:5.0px;top:404.7px"></div>
<div class="gap" style="left:874.6px;width:5.0px;top:404.7px"></div>
<div class="gap" style="left:695.4px;width:5.0px;top:448.4px"></div>
<div class="gap" style="left:874.6px;width:5.0px;top:448.4px"></div>
<div class="gap" style="left:695.4px;width:5.0px;top:492.1px"></div>
<div class="gap" style="left:874.6px;width:5.0px;top:492.1px"></div>
<div class="gap" style="left:695.4px;width:5.0px;top:535.8px"></div>
<div class="gap" style="left:874.6px;width:5.0px;top:535.8px"></div>
<div class="gap" style="left:695.4px;width:5.0px;top:579.5px"></div>
<div class="gap" style="left:874.6px;width:5.0px;top:579.5px"></div>
<div class="gap" style="left:695.4px;width:5.0px;top:623.2px"></div>
<div class="gap" style="left:874.6px;width:5.0px;top:623.2px"></div>
<div class="gap" style="left:695.4px;width:5.0px;top:666.9px"></div>
<div class="gap" style="left:874.6px;width:5.0px;top:666.9px"></div>
<div class="gap" style="left:695.4px;width:5.0px;top:710.6px"></div>
<div class="gap" style="left:874.6px;width:5.0px;top:710.6px"></div>
<div class="gap" style="left:695.4px;width:5.0px;top:754.4px"></div>
<div class="gap" style="left:874.6px;width:5.0px;top:754.4px"></div>
<div class="gap" style="left:695.4px;width:5.0px;top:798.1px"></div>
<div class="gap" style="left:874.6px;width:5.0px;top:798.1px"></div>
<div class="gap" style="left:695.4px;width:5.0px;top:841.8px"></div>
<div class="gap" style="left:874.6px;width:5.0px;top:841.8px"></div>
<div class="gap" style="left:695.4px;width:5.0px;top:885.5px"></div>
<div class="gap" style="left:874.6px;width:5.0px;top:885.5px"></div>
<div class="gap" style="left:695.4px;width:5.0px;top:929.2px"></div>
<div class="gap" style="left:874.6px;width:5.0px;top:929.2px"></div>
<div class="gap" style="left:695.4px;width:5.0px;top:972.9px"></div>
<div class="gap" style="left:874.6px;width:5.0px;top:972.9px"></div>
<div class="gap" style="left:695.4px;width:5.0px;top:1016.6px"></div>
<div class="gap" style="left:874.6px;width:5.0px;top:1016.6px"></div>
<div class="gap" style="left:695.4px;width:5.0px;top:1060.3px"></div>
<div class="gap" style="left:874.6px;width:5.0px;top:1060.3px"></div>
<div class="gap" style="left:695.4px;width:5.0px;top:1104.0px"></div>
<div class="gap" style="left:874.6px;width:5.0px;top:1104.0px"></div>
<div class="t bd" style="left:35.9px;top:110.8px;">B-Zell-Subpopulationen</div>
<div class="t lb" style="left:35.9px;top:154.6px;">Transitionale B-Zellen</div>
<div class="t nm" style="right:749.0px;top:154.8px">1</div>
<div class="t un" style="left:815.5px;top:154.8px">/µl</div>
<div class="t nv" style="left:955.6px;top:155.5px;">1-23</div>
<div class="bar" style="left:1140.4px;top:156.0px;width:249.6px"><i class="rd" style="left:0.0px;width:54.5px"></i><i class="gn" style="left:54.5px;width:140.6px"></i><i class="rd" style="left:195.1px;width:54.5px"></i><b class="dot" style="left:61.0px"></b></div>
<div class="t lb" style="left:35.9px;top:198.3px;">Naive B-Zellen</div>
<div class="t nm" style="right:749.0px;top:198.5px">98</div>
<div class="t un" style="left:815.5px;top:198.5px">/µl</div>
<div class="t nv" style="left:955.6px;top:199.2px;">38-243</div>
<div class="bar" style="left:1140.4px;top:199.7px;width:249.6px"><i class="rd" style="left:0.0px;width:54.5px"></i><i class="gn" style="left:54.5px;width:140.6px"></i><i class="rd" style="left:195.1px;width:54.5px"></i><b class="dot" style="left:118.7px"></b></div>
<div class="t lb" style="left:35.9px;top:242.0px;">Memory B-Zellen</div>
<div class="t nm r" style="right:749.0px;top:242.2px">8</div>
<div class="t un" style="left:815.5px;top:242.2px">/µl</div>
<div class="t nv" style="left:955.6px;top:242.9px;">26-150</div>
<div class="bar" style="left:1140.4px;top:243.4px;width:249.6px"><i class="rd" style="left:0.0px;width:54.5px"></i><i class="gn" style="left:54.5px;width:140.6px"></i><i class="rd" style="left:195.1px;width:54.5px"></i><b class="dot" style="left:3.6px"></b></div>
<div class="t lb" style="left:35.9px;top:285.7px;">Plasmablasten/-Zellen</div>
<div class="t nm r" style="right:749.0px;top:285.9px">0</div>
<div class="t un" style="left:815.5px;top:285.9px">/µl</div>
<div class="t nv" style="left:955.6px;top:286.7px;">1-8</div>
<div class="bar" style="left:1140.4px;top:287.1px;width:249.6px"><i class="rd" style="left:0.0px;width:54.5px"></i><i class="gn" style="left:54.5px;width:140.6px"></i><i class="rd" style="left:195.1px;width:54.5px"></i><b class="dot" style="left:3.6px"></b></div>
<div class="t lb" style="left:35.9px;top:329.4px;">CD21 low B-Zellen</div>
<div class="t nm r" style="right:749.0px;top:329.6px">18</div>
<div class="t un" style="left:815.5px;top:329.6px;letter-spacing:0;transform-origin:0 50%;transform:scaleX(1.17)">%</div>
<div class="t nv" style="left:955.6px;top:330.4px;">2-14</div>
<div class="bar" style="left:1140.4px;top:330.8px;width:249.6px"><i class="rd" style="left:0.0px;width:54.5px"></i><i class="gn" style="left:54.5px;width:140.6px"></i><i class="rd" style="left:195.1px;width:54.5px"></i><b class="dot" style="left:214.0px"></b></div>
<div class="t bd" style="left:35.9px;top:373.1px;">Memory B-Zellen (MBZ)</div>
<div class="t lb" style="left:35.9px;top:416.8px;"><span class="sI">I</span>gM+/<span class="sI">I</span>gD+ MBZ</div>
<div class="t nm r" style="right:749.0px;top:417.0px">4,7</div>
<div class="t un" style="left:815.5px;top:417.0px">/µl</div>
<div class="t nv" style="left:955.6px;top:417.8px;">12,6-92,6</div>
<div class="bar" style="left:1140.4px;top:418.2px;width:249.6px"><i class="rd" style="left:0.0px;width:54.5px"></i><i class="gn" style="left:54.5px;width:140.6px"></i><i class="rd" style="left:195.1px;width:54.5px"></i><b class="dot" style="left:22.0px"></b></div>
<div class="t lb" style="left:35.9px;top:460.5px;"><span class="sI">I</span>gD+ MBZ</div>
<div class="t nm r" style="right:749.0px;top:460.7px">0,7</div>
<div class="t un" style="left:815.5px;top:460.7px">/µl</div>
<div class="t nv" style="left:955.6px;top:461.5px;">&lt;0,7</div>
<div class="bar" style="left:1140.4px;top:461.9px;width:249.6px"><i class="gn" style="left:0.0px;width:125.0px;border-left:1px solid #2c4a10!important"></i><i class="rd" style="left:125.0px;width:124.6px"></i><b class="dot" style="left:155.7px"></b></div>
<div class="t lb" style="left:35.9px;top:504.2px;"><span class="sI">I</span>gG1+ MBZ</div>
<div class="t nm r" style="right:749.0px;top:504.4px">0,6</div>
<div class="t un" style="left:815.5px;top:504.4px">/µl</div>
<div class="t nv" style="left:955.6px;top:505.2px;">3,6-29</div>
<div class="bar" style="left:1140.4px;top:505.6px;width:249.6px"><i class="rd" style="left:0.0px;width:54.5px"></i><i class="gn" style="left:54.5px;width:140.6px"></i><i class="rd" style="left:195.1px;width:54.5px"></i><b class="dot" style="left:3.3px"></b></div>
<div class="t lb" style="left:35.9px;top:547.9px;"><span class="sI">I</span>gG2+ MBZ</div>
<div class="t nm r" style="right:749.0px;top:548.1px">0</div>
<div class="t un" style="left:815.5px;top:548.1px">/µl</div>
<div class="t nv" style="left:955.6px;top:548.9px;">0,7-10,8</div>
<div class="bar" style="left:1140.4px;top:549.4px;width:249.6px"><i class="rd" style="left:0.0px;width:54.5px"></i><i class="gn" style="left:54.5px;width:140.6px"></i><i class="rd" style="left:195.1px;width:54.5px"></i><b class="dot" style="left:3.3px"></b></div>
<div class="t lb" style="left:35.9px;top:591.7px;"><span class="sI">I</span>gG3+ MBZ</div>
<div class="t nm r" style="right:749.0px;top:591.9px">0,2</div>
<div class="t un" style="left:815.5px;top:591.9px">/µl</div>
<div class="t nv" style="left:955.6px;top:592.6px;">0,8-4,3</div>
<div class="bar" style="left:1140.4px;top:593.1px;width:249.6px"><i class="rd" style="left:0.0px;width:54.5px"></i><i class="gn" style="left:54.5px;width:140.6px"></i><i class="rd" style="left:195.1px;width:54.5px"></i><b class="dot" style="left:3.3px"></b></div>
<div class="t lb" style="left:35.9px;top:635.4px;"><span class="sI">I</span>gG4+ MBZ</div>
<div class="t nm" style="right:749.0px;top:635.6px">0</div>
<div class="t un" style="left:815.5px;top:635.6px">/µl</div>
<div class="t nv" style="left:955.6px;top:636.3px;">&lt;3,1</div>
<div class="bar" style="left:1140.4px;top:636.8px;width:249.6px"><i class="gn" style="left:0.0px;width:125.0px;border-left:1px solid #2c4a10!important"></i><i class="rd" style="left:125.0px;width:124.6px"></i><b class="dot" style="left:42.0px"></b></div>
<div class="t lb" style="left:35.9px;top:679.1px;"><span class="sI">I</span>gA1+ MBZ</div>
<div class="t nm r" style="right:749.0px;top:679.3px">0</div>
<div class="t un" style="left:815.5px;top:679.3px">/µl</div>
<div class="t nv" style="left:955.6px;top:680.0px;">2,5-23,6</div>
<div class="bar" style="left:1140.4px;top:680.5px;width:249.6px"><i class="rd" style="left:0.0px;width:54.5px"></i><i class="gn" style="left:54.5px;width:140.6px"></i><i class="rd" style="left:195.1px;width:54.5px"></i><b class="dot" style="left:3.3px"></b></div>
<div class="t lb" style="left:35.9px;top:722.8px;"><span class="sI">I</span>gA2+ MBZ</div>
<div class="t nm r" style="right:749.0px;top:723.0px">0</div>
<div class="t un" style="left:815.5px;top:723.0px">/µl</div>
<div class="t nv" style="left:955.6px;top:723.8px;">0,8-13,5</div>
<div class="bar" style="left:1140.4px;top:724.2px;width:249.6px"><i class="rd" style="left:0.0px;width:54.5px"></i><i class="gn" style="left:54.5px;width:140.6px"></i><i class="rd" style="left:195.1px;width:54.5px"></i><b class="dot" style="left:3.3px"></b></div>
<div class="t bd" style="left:35.9px;top:766.5px;">Plasmablasten/Plasmazellen (PBL)</div>
<div class="t lb" style="left:35.9px;top:810.2px;"><span class="sI">I</span>gM+ PBL</div>
<div class="t nm r" style="right:749.0px;top:810.4px">0,01</div>
<div class="t un" style="left:815.5px;top:810.4px">/µl</div>
<div class="t nv" style="left:955.6px;top:811.2px;">0,06-0,73</div>
<div class="bar" style="left:1140.4px;top:811.6px;width:249.6px"><i class="rd" style="left:0.0px;width:54.5px"></i><i class="gn" style="left:54.5px;width:140.6px"></i><i class="rd" style="left:195.1px;width:54.5px"></i><b class="dot" style="left:3.3px"></b></div>
<div class="t lb" style="left:35.9px;top:853.9px;"><span class="sI">I</span>gD+ PBL</div>
<div class="t nm" style="right:749.0px;top:854.1px">0</div>
<div class="t un" style="left:815.5px;top:854.1px">/µl</div>
<div class="t nv" style="left:955.6px;top:854.9px;">&lt;0,05</div>
<div class="bar" style="left:1140.4px;top:855.3px;width:249.6px"><i class="gn" style="left:0.0px;width:125.0px;border-left:1px solid #2c4a10!important"></i><i class="rd" style="left:125.0px;width:124.6px"></i><b class="dot" style="left:40.7px"></b></div>
<div class="t lb" style="left:35.9px;top:897.6px;"><span class="sI">I</span>gG1+ PBL</div>
<div class="t nm" style="right:749.0px;top:897.8px">0</div>
<div class="t un" style="left:815.5px;top:897.8px">/µl</div>
<div class="t nv" style="left:955.6px;top:898.6px;">&lt;1,49</div>
<div class="bar" style="left:1140.4px;top:899.0px;width:249.6px"><i class="gn" style="left:0.0px;width:125.0px;border-left:1px solid #2c4a10!important"></i><i class="rd" style="left:125.0px;width:124.6px"></i><b class="dot" style="left:40.7px"></b></div>
<div class="t lb" style="left:35.9px;top:941.3px;"><span class="sI">I</span>gG2+ PBL</div>
<div class="t nm r" style="right:749.0px;top:941.5px">0</div>
<div class="t un" style="left:815.5px;top:941.5px">/µl</div>
<div class="t nv" style="left:955.6px;top:942.3px;">0,04-0,65</div>
<div class="bar" style="left:1140.4px;top:942.7px;width:249.6px"><i class="rd" style="left:0.0px;width:54.5px"></i><i class="gn" style="left:54.5px;width:140.6px"></i><i class="rd" style="left:195.1px;width:54.5px"></i><b class="dot" style="left:98.5px"></b></div>
<div class="t lb" style="left:35.9px;top:985.0px;"><span class="sI">I</span>gG3+ PBL</div>
<div class="t nm" style="right:749.0px;top:985.2px">0</div>
<div class="t un" style="left:815.5px;top:985.2px">/µl</div>
<div class="t nv" style="left:955.6px;top:986.0px;">&lt;0,07</div>
<div class="bar" style="left:1140.4px;top:986.5px;width:249.6px"><i class="gn" style="left:0.0px;width:125.0px;border-left:1px solid #2c4a10!important"></i><i class="rd" style="left:125.0px;width:124.6px"></i><b class="dot" style="left:40.7px"></b></div>
<div class="t lb" style="left:35.9px;top:1028.8px;"><span class="sI">I</span>gG4+ PBL</div>
<div class="t nm" style="right:749.0px;top:1029.0px">0,01</div>
<div class="t un" style="left:815.5px;top:1029.0px">/µl</div>
<div class="t nv" style="left:955.6px;top:1029.7px;">&lt;0,08</div>
<div class="bar" style="left:1140.4px;top:1030.2px;width:249.6px"><i class="gn" style="left:0.0px;width:125.0px;border-left:1px solid #2c4a10!important"></i><i class="rd" style="left:125.0px;width:124.6px"></i><b class="dot" style="left:40.7px"></b></div>
<div class="t lb" style="left:35.9px;top:1072.5px;"><span class="sI">I</span>gA1+ PBL</div>
<div class="t nm r" style="right:749.0px;top:1072.7px">0</div>
<div class="t un" style="left:815.5px;top:1072.7px">/µl</div>
<div class="t nv" style="left:955.6px;top:1073.4px;">0,27-3,49</div>
<div class="bar" style="left:1140.4px;top:1073.9px;width:249.6px"><i class="rd" style="left:0.0px;width:54.5px"></i><i class="gn" style="left:54.5px;width:140.6px"></i><i class="rd" style="left:195.1px;width:54.5px"></i><b class="dot" style="left:23.0px"></b></div>
<div class="t lb" style="left:35.9px;top:1116.2px;"><span class="sI">I</span>gA2+ PBL</div>
<div class="t nm r" style="right:749.0px;top:1116.4px">0</div>
<div class="t un" style="left:815.5px;top:1116.4px">/µl</div>
<div class="t nv" style="left:955.6px;top:1117.1px;">0,08-2,41</div>
<div class="bar" style="left:1140.4px;top:1117.6px;width:249.6px"><i class="rd" style="left:0.0px;width:54.5px"></i><i class="gn" style="left:54.5px;width:140.6px"></i><i class="rd" style="left:195.1px;width:54.5px"></i><b class="dot" style="left:61.0px"></b></div>
<div class="t ar" style="left:36.4px;top:1160.4px;line-height:33px">Unauffällige Anzahl naiver B-Zellen. Kein Anhalt für eine gestörte B-Lymphopoese im Knochenmark.<br>Deutlich verminderte Memory-B-Zellen mit fast vollständigem Fehlen der klassengewechselten Memory-B-Zell-<br>Subsets. Es sind keine Plasmazellen nachweisbar.</div>
<div class="t bd" style="left:36.2px;top:1279.5px;font-size:28.3px">Befund:</div>
<div class="t ar" style="left:36.8px;top:1319.1px;line-height:32.7px">Schwerer Defekt der Antigen-abhängigen B-Zell-Differenzierung. Dies könnte bei entsprechender Verminderung der<br>Ig-Klassen im Serum und klinischer Konstellation das Korrelat einer humoralen Immundefizienz, beispielsweise<br>eines CVID, sein.</div>
</div></div></div>
</body></html>
